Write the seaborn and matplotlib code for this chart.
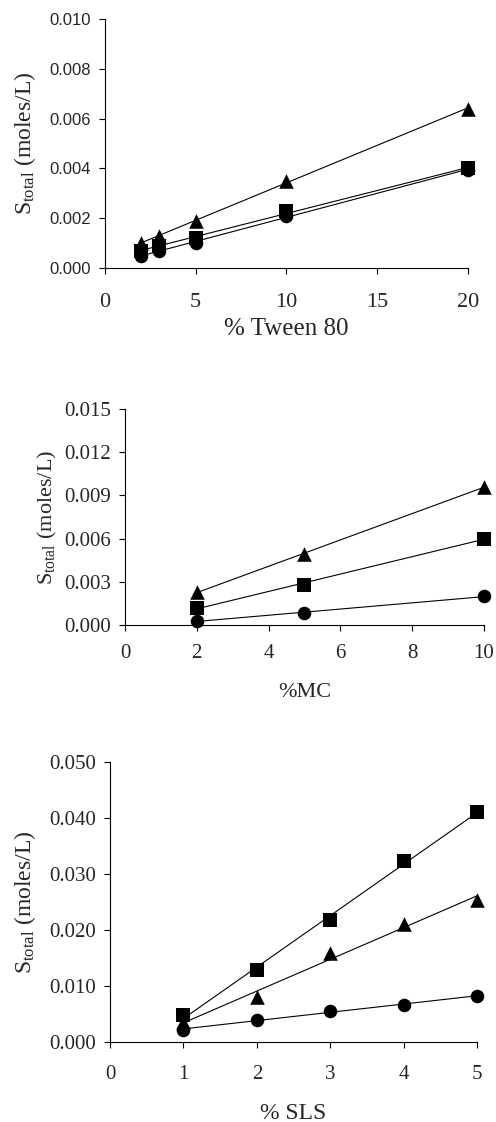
import numpy as np
import pandas as pd
import matplotlib
matplotlib.use("Agg")
import matplotlib.pyplot as plt
import seaborn as sns
from matplotlib.ticker import FormatStrFormatter

sns.set_style("ticks")
plt.rcParams['font.family'] = ['Liberation Serif', 'DejaVu Serif']
plt.rcParams['mathtext.fontset'] = 'custom'
plt.rcParams['mathtext.rm'] = 'Liberation Serif'
plt.rcParams['mathtext.it'] = 'Liberation Serif'

# Panel 1: Tween 80
tween_x = [2, 3, 5, 10, 20]
tween_tri = [0.0010, 0.0013, 0.0019, 0.0035, 0.0064]
tween_sq = [0.0007, 0.0009, 0.0012, 0.0023, 0.0040]
tween_ci = [0.0005, 0.0007, 0.0010, 0.0021, 0.00395]

# Panel 2: MC
mc_x = [2, 5, 10]
mc_tri = [0.0023, 0.0049, 0.0096]
mc_sq = [0.0012, 0.0028, 0.0060]
mc_ci = [0.0003, 0.0008, 0.0020]

# Panel 3: SLS
sls_x = [1, 2, 3, 4, 5]
sls_sq = [0.0049, 0.0128, 0.0217, 0.0323, 0.0411]
sls_tri = [0.0035, 0.0080, 0.0159, 0.0211, 0.0253]
sls_ci = [0.0021, 0.0040, 0.0056, 0.0066, 0.0082]

fig = plt.figure(figsize=(4.96, 11.22), dpi=100)

ax1 = fig.add_axes([0.2117, 0.7611, 0.7318, 0.222])
ax2 = fig.add_axes([0.252, 0.443, 0.7238, 0.1925])
ax3 = fig.add_axes([0.2218, 0.0713, 0.74, 0.2496])

SIZES = {'o': 95, 's': 105, '^': 110}

def draw(ax, x, series):
    for y, m in series:
        df = pd.DataFrame({"x": x, "y": y})
        sns.regplot(data=df, x="x", y="y", ax=ax, ci=None, truncate=True,
                    marker=m, color="black",
                    scatter_kws={"s": SIZES[m], "zorder": 3, "linewidths": 0,
                                 "alpha": 1, "clip_on": False},
                    line_kws={"lw": 0.8, "zorder": 2})

draw(ax1, tween_x, [(tween_ci, 'o'), (tween_sq, 's'), (tween_tri, '^')])
draw(ax2, mc_x, [(mc_ci, 'o'), (mc_sq, 's'), (mc_tri, '^')])
draw(ax3, sls_x, [(sls_ci, 'o'), (sls_sq, 's'), (sls_tri, '^')])

ylab = r"S$_{\mathrm{total}}$ (moles/L)"

for ax in (ax1, ax2, ax3):
    sns.despine(ax=ax)
    ax.tick_params(direction='out', length=4, width=0.8, color='black', pad=6)
    for s in ("left", "bottom"):
        ax.spines[s].set_color('black')
        ax.spines[s].set_linewidth(0.8)

# Panel 1 settings
ax1.set_xlim(0, 20)
ax1.set_ylim(0, 0.010)
ax1.set_xticks([0, 5, 10, 15, 20])
ax1.set_yticks(np.arange(0, 0.0101, 0.002))
ax1.yaxis.set_major_formatter(FormatStrFormatter('%.3f'))
for lab in ax1.get_yticklabels():
    lab.set_family(['Liberation Sans', 'DejaVu Sans'])
    lab.set_fontsize(12)
ax1.tick_params(axis='x', labelsize=16, pad=14)
ax1.set_xlabel("% Tween 80", fontsize=18, labelpad=4)
ax1.set_ylabel(ylab, fontsize=17, labelpad=8)

# Panel 2
ax2.set_xlim(0, 10)
ax2.set_ylim(0, 0.015)
ax2.set_xticks([0, 2, 4, 6, 8, 10])
ax2.set_yticks(np.arange(0, 0.0151, 0.003))
ax2.yaxis.set_major_formatter(FormatStrFormatter('%.3f'))
ax2.tick_params(axis='both', labelsize=15)
ax2.tick_params(axis='x', pad=10)
ax2.set_xlabel("%MC", fontsize=16, labelpad=14)
ax2.set_ylabel(ylab, fontsize=16, labelpad=4)

# Panel 3
ax3.set_xlim(0, 5)
ax3.set_ylim(0, 0.050)
ax3.set_xticks([0, 1, 2, 3, 4, 5])
ax3.set_yticks(np.arange(0, 0.0501, 0.010))
ax3.yaxis.set_major_formatter(FormatStrFormatter('%.3f'))
ax3.tick_params(axis='both', labelsize=15)
ax3.tick_params(axis='x', pad=12.5)
ax3.set_xlabel("% SLS", fontsize=17, labelpad=13.5)
ax3.set_ylabel(ylab, fontsize=17, labelpad=8)

fig.savefig("out.png", dpi=100)
